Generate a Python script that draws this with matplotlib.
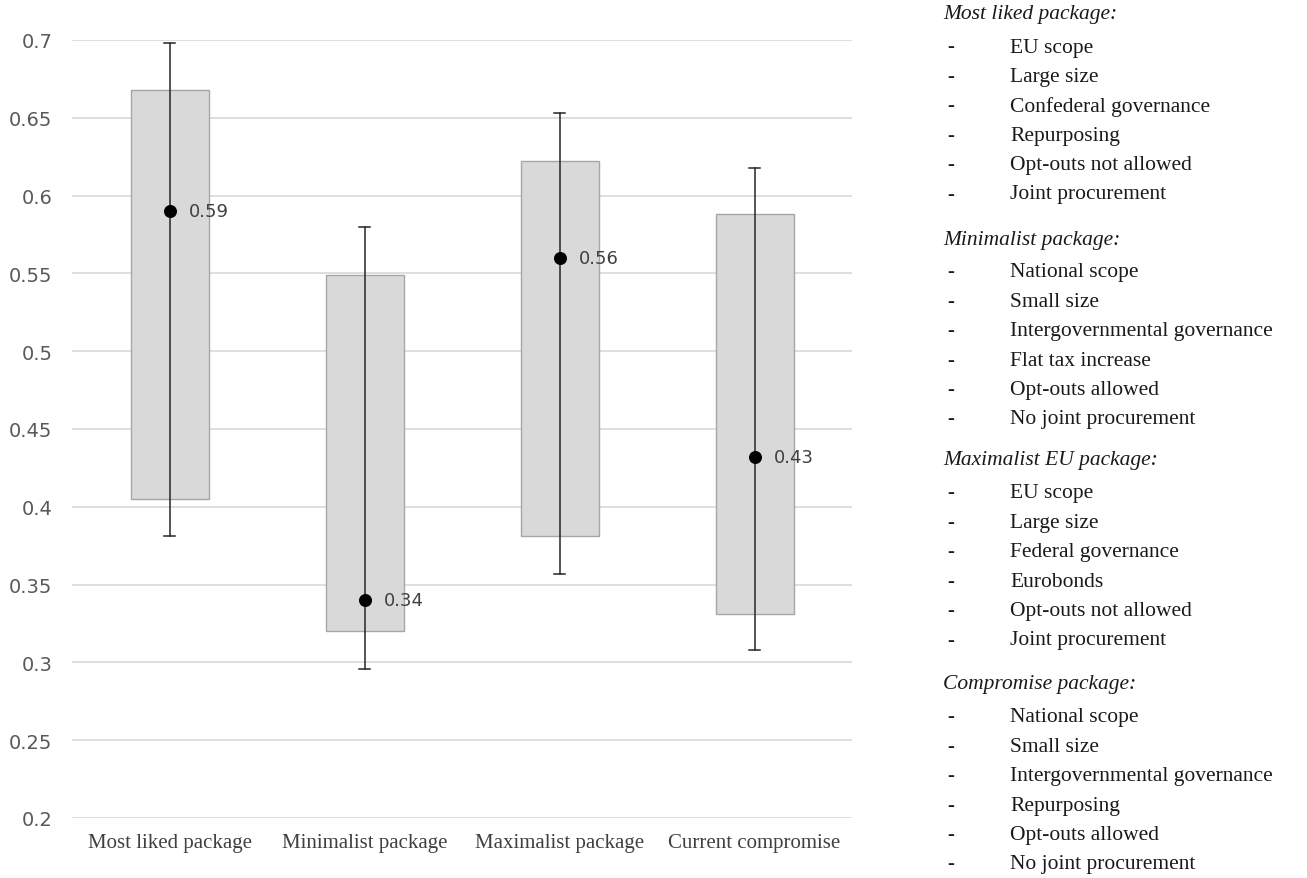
import matplotlib.pyplot as plt

categories = ["Most liked package", "Minimalist package", "Maximalist package", "Current compromise"]
box_low = [0.405, 0.320, 0.381, 0.331]
box_high = [0.668, 0.549, 0.622, 0.588]
whisker_low = [0.381, 0.296, 0.357, 0.308]
whisker_high = [0.698, 0.580, 0.653, 0.618]
point_values = [0.590, 0.340, 0.560, 0.432]
point_labels = ["0.59", "0.34", "0.56", "0.43"]

y_ticks = [0.2, 0.25, 0.3, 0.35, 0.4, 0.45, 0.5, 0.55, 0.6, 0.65, 0.7]
y_tick_labels = ["0.2", "0.25", "0.3", "0.35", "0.4", "0.45", "0.5", "0.55", "0.6", "0.65", "0.7"]

package_headers = ["Most liked package:", "Minimalist package:", "Maximalist EU package:", "Compromise package:"]
package_items = [
    ["EU scope", "Large size", "Confederal governance", "Repurposing", "Opt-outs not allowed", "Joint procurement"],
    ["National scope", "Small size", "Intergovernmental governance", "Flat tax increase", "Opt-outs allowed", "No joint procurement"],
    ["EU scope", "Large size", "Federal governance", "Eurobonds", "Opt-outs not allowed", "Joint procurement"],
    ["National scope", "Small size", "Intergovernmental governance", "Repurposing", "Opt-outs allowed", "No joint procurement"],
]

fig = plt.figure(figsize=(13.07, 8.79), dpi=100)
ax = fig.add_axes([72 / 1307, 60 / 879, 780 / 1307, 778 / 879])

x = list(range(len(categories)))

# floating boxes
heights = [h - l for l, h in zip(box_low, box_high)]
ax.bar(x, heights, bottom=box_low, width=0.4, color="#d9d9d9", edgecolor="#a6a6a6",
       linewidth=1.0, zorder=2)

# whiskers
for xi, lo, hi in zip(x, whisker_low, whisker_high):
    ax.plot([xi, xi], [lo, hi], color="#262626", linewidth=1.1, zorder=3, clip_on=False)
    for yv in (lo, hi):
        ax.plot([xi - 0.03, xi + 0.03], [yv, yv], color="#262626", linewidth=1.1, zorder=3,
                clip_on=False)

# mean points with labels
ax.scatter(x, point_values, s=70, color="black", zorder=4)
for xi, yv, lab in zip(x, point_values, point_labels):
    ax.annotate(lab, (xi, yv), xytext=(14, 0), textcoords="offset points", va="center",
                ha="left", fontsize=13, color="#404040", family="DejaVu Sans")

ax.set_xlim(-0.5, 3.5)
ax.set_ylim(0.2, 0.7)
ax.set_yticks(y_ticks)
ax.set_yticklabels(y_tick_labels, fontsize=14, color="#595959", family="DejaVu Sans")
ax.set_xticks(x)
ax.set_xticklabels(categories, fontsize=15, color="#404040", family="Liberation Serif")
ax.tick_params(axis="both", length=0)
ax.tick_params(axis="y", pad=14)
ax.tick_params(axis="x", pad=11)
ax.grid(axis="y", color="#d9d9d9", linewidth=1.2, zorder=0)
ax.set_axisbelow(True)
for s in ax.spines.values():
    s.set_visible(False)

# package descriptions on the right
def px(xp, yp):
    return xp / 1307, 1 - yp / 879

header_y = [15, 240, 461, 685]
for hy, head, items in zip(header_y, package_headers, package_items):
    fig.text(*px(943, hy), head, fontsize=15.5, style="italic", family="Liberation Serif",
             va="center", ha="left", color="#1a1a1a")
    for i, item in enumerate(items):
        iy = hy + 33 + i * 29.4
        fig.text(*px(947, iy), "-", fontsize=15, family="Liberation Serif", va="center",
                 ha="left", color="#1a1a1a")
        fig.text(*px(1010, iy), item, fontsize=15.5, family="Liberation Serif", va="center",
                 ha="left", color="#1a1a1a")

fig.savefig("out.png", dpi=100, facecolor="white")
